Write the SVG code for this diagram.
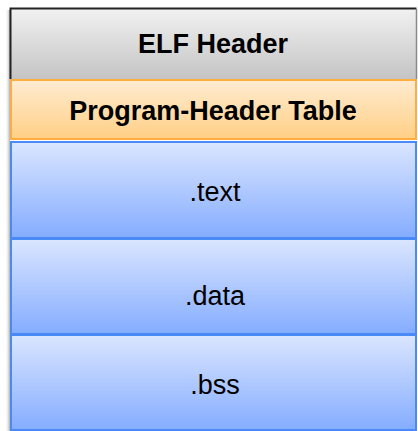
<svg xmlns="http://www.w3.org/2000/svg" width="418" height="431" viewBox="0 0 418 431">
  <defs>
    <linearGradient id="gGray" x1="0" y1="0" x2="0" y2="1">
      <stop offset="0" stop-color="#f2f2f2"/>
      <stop offset="1" stop-color="#c4c4c4"/>
    </linearGradient>
    <linearGradient id="gOrange" x1="0" y1="0" x2="0" y2="1">
      <stop offset="0" stop-color="#ffecd2"/>
      <stop offset="1" stop-color="#ffcf85"/>
    </linearGradient>
    <linearGradient id="gBlue" x1="0" y1="0" x2="0" y2="1">
      <stop offset="0" stop-color="#dbe6ff"/>
      <stop offset="1" stop-color="#84acff"/>
    </linearGradient>
    <linearGradient id="gShadow" x1="0" y1="0" x2="1" y2="0">
      <stop offset="0" stop-color="#ffffff" stop-opacity="0"/>
      <stop offset="1" stop-color="#b0b0b0"/>
    </linearGradient>
  </defs>
  <style>
    .lbl { font-family: "Liberation Sans", Arial, sans-serif; font-size: 27px; fill: #000; text-anchor: middle; }
    .b { font-weight: bold; }
    .seg { stroke-width: 2; }
    .blue { fill: url(#gBlue); stroke: #4a8af5; }
  </style>
  <rect width="418" height="431" fill="#ffffff"/>
  <!-- soft shadow along the left edge -->
  <rect x="5" y="10" width="5" height="421" fill="url(#gShadow)"/>

  <g id="elf-header">
    <rect x="10" y="8" width="406" height="71" fill="url(#gGray)"/>
    <path d="M10.5 79 V8.5 H416.5" fill="none" stroke="#222" stroke-width="2"/>
    <path d="M416.5 9 V79" fill="none" stroke="#8a8a8a" stroke-width="1.5"/>
    <text class="lbl b" x="213" y="53">ELF Header</text>
  </g>

  <g id="program-header-table">
    <rect class="seg" x="11" y="80" width="405" height="59" fill="url(#gOrange)" stroke="#ffac40"/>
    <text class="lbl b" x="213" y="120">Program-Header Table</text>
  </g>

  <g id="text-section">
    <rect class="seg blue" x="11" y="142" width="405" height="96"/>
    <text class="lbl" x="215" y="201">.text</text>
  </g>

  <g id="data-section">
    <rect class="seg blue" x="11" y="239" width="405" height="95"/>
    <text class="lbl" x="215" y="305">.data</text>
  </g>

  <g id="bss-section">
    <rect class="seg blue" x="11" y="335" width="405" height="95"/>
    <text class="lbl" x="215" y="394">.bss</text>
  </g>

  <g id="connectors"/>
</svg>
